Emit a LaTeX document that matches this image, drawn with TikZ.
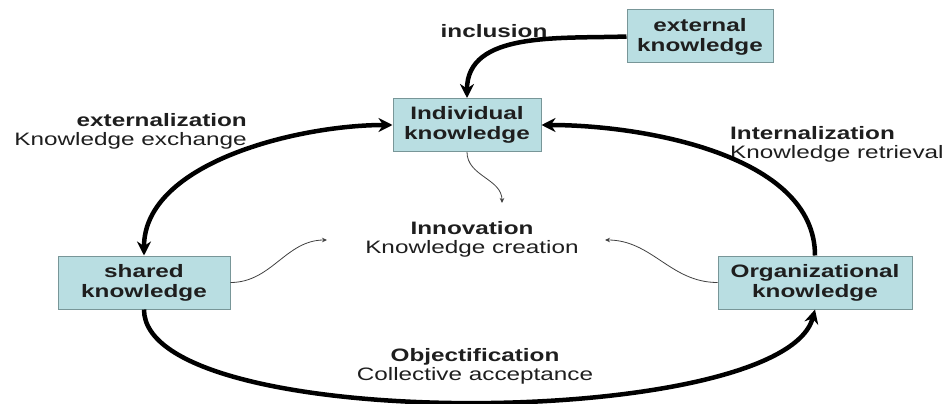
\documentclass[tikz,border=0pt]{standalone}
\usepackage{fontspec}
\setmainfont{Liberation Sans}[FakeStretch=1.35]
\usetikzlibrary{arrows.meta,positioning}
\definecolor{boxfill}{RGB}{185,222,226}
\definecolor{boxline}{RGB}{120,150,152}
\definecolor{textgray}{RGB}{30,30,30}

\begin{document}
\begin{tikzpicture}[x=1pt, y=-1pt]
    \tikzstyle{kbox}=[draw=boxline, fill=boxfill, line width=1pt, minimum height=53pt, inner sep=0pt, align=center, font=\fontsize{18}{20}\selectfont\bfseries, text=textgray]
    \tikzstyle{lbl}=[inner sep=0pt, font=\fontsize{18}{19}\selectfont, text=textgray]
    \tikzstyle{flow}=[line width=4.5pt, -{Stealth[length=14pt,width=14pt]}]
    \tikzstyle{hint}=[line width=0.8pt, draw=black!75, -{Stealth[length=5pt,width=4.5pt]}]

    \useasboundingbox (0,0) rectangle (948,404);

    % Knowledge boxes
    \node (ext)[kbox, minimum width=146pt] at (700,36.5) {external\\knowledge};
    \node (ind)[kbox, minimum width=148pt] at (467,125) {Individual\\knowledge};
    \node (shd)[kbox, minimum width=172pt] at (144,282.5) {shared\\knowledge};
    \node (org)[kbox, minimum width=194pt] at (815,282.5) {Organizational\\knowledge};

    % Labels
    \node (incl)[lbl] at (494,31) {\bfseries inclusion};
    \node (extl)[lbl, anchor=east, align=right] at (247,131) {{\bfseries externalization}\\Knowledge exchange};
    \node (intl)[lbl, anchor=west, align=left] at (730,144) {{\bfseries Internalization}\\Knowledge retrieval};
    \node (innv)[lbl, align=center] at (472,239) {{\bfseries Innovation}\\Knowledge creation};
    \node (objc)[lbl, align=center] at (475,366) {{\bfseries Objectification}\\Collective acceptance};

    % Ends of the thin arrows
    \coordinate (innTop) at (502,203);
    \coordinate (innLeft) at (327,240);
    \coordinate (innRight) at (605,240);

    % Main cycle
    \draw[flow] (ext.west) to[out=182, in=90] (ind.north);
    \draw[flow, {Stealth[length=14pt,width=14pt]}-{Stealth[length=14pt,width=14pt]}] (shd.north) to[out=90, in=180, looseness=0.85] (ind.west);
    \draw[flow] (org.north) to[out=90, in=0, looseness=0.85] (ind.east);
    \draw[flow] (shd.south) to[out=-90, in=-105, looseness=0.48] (org.south);

    % Thin arrows into innovation
    \draw[hint] (ind.south) to[out=-90, in=90] (innTop);
    \draw[hint] (shd.east) to[out=0, in=180] (innLeft);
    \draw[hint] (org.west) to[out=180, in=0] (innRight);
\end{tikzpicture}
\end{document}
